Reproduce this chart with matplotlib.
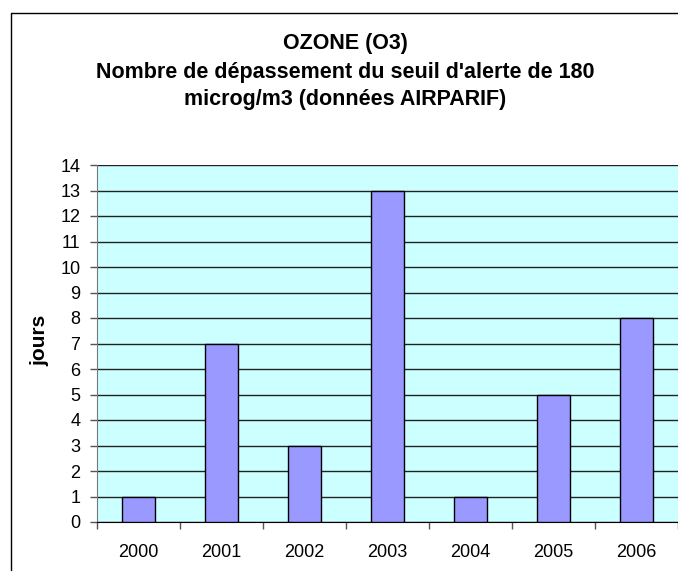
import numpy as np
import matplotlib.pyplot as plt
from matplotlib.lines import Line2D

plt.rcParams['font.family'] = ['Liberation Sans', 'DejaVu Sans']

annees = ['2000', '2001', '2002', '2003', '2004', '2005', '2006']
jours = [1, 7, 3, 13, 1, 5, 8]

fig = plt.figure(figsize=(6.78, 5.71), dpi=100)

# cadre du graphique : seuls les bords gauche et haut sont visibles
x0, y0 = 10.5 / 678, 1 - 12.5 / 571
fig.add_artist(Line2D([x0, x0, 1.0], [0.0, y0, y0], transform=fig.transFigure,
                      color='black', linewidth=1.0))

ax = fig.add_axes([97 / 678, 1 - 522 / 571, 1 - 97 / 678, (522 - 165) / 571])
ax.set_facecolor('#CCFFFF')

x = np.arange(len(annees))
ax.bar(x, jours, width=0.4, color='#9999FF', edgecolor='black',
       linewidth=1.0, zorder=3)

ax.set_xlim(-0.5, len(annees) - 0.5)
ax.set_ylim(0, 14)
ax.set_yticks(range(0, 15))
ax.yaxis.grid(True, color='#222222', linewidth=1.0)
ax.set_axisbelow(True)

ax.set_xticks(x)
ax.set_xticklabels(annees)
ax.set_xticks(np.arange(-0.5, len(annees), 1), minor=True)
ax.tick_params(axis='x', which='major', length=0, pad=16, labelsize=13)
ax.tick_params(axis='x', which='minor', length=5, width=1, color='#555555')
ax.tick_params(axis='y', length=5, width=1, pad=7, labelsize=13, color='#555555')

for s in ['top', 'right']:
    ax.spines[s].set_visible(False)
ax.spines['left'].set_color('#777777')
ax.spines['bottom'].set_color('black')

fig.text(40 / 678, 1 - 340 / 571, 'jours', rotation=90, ha='center',
         va='center', fontsize=15, fontweight='bold')

xc = 345 / 678
fig.text(xc, 1 - 44 / 571, 'OZONE (O3)', ha='center', va='center',
         fontsize=15.5, fontweight='bold')
fig.text(xc, 1 - 72 / 571, "Nombre de dépassement du seuil d'alerte de 180",
         ha='center', va='center', fontsize=15.5, fontweight='bold')
fig.text(xc, 1 - 100 / 571, 'microg/m3 (données AIRPARIF)', ha='center',
         va='center', fontsize=15.5, fontweight='bold')

fig.savefig('out.png', dpi=100)
